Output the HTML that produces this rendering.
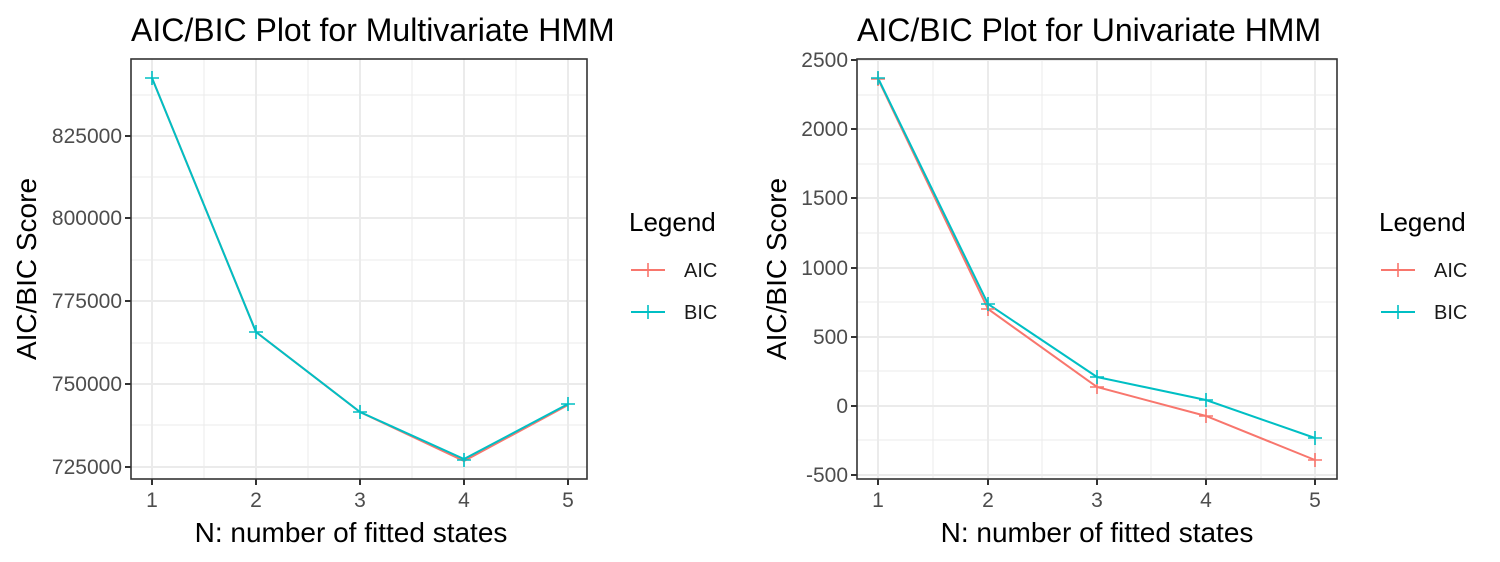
<!DOCTYPE html>
<html><head><meta charset="utf-8"><style>body{margin:0;background:#fff}svg{display:block;font-family:"Liberation Sans",Arial,sans-serif}</style></head><body>
<svg width="1500" height="562" viewBox="0 0 1500 562">
<!-- LEFT PANEL -->
<g>
<g stroke="#ebebeb" stroke-width="1">
<line x1="131" x2="587" y1="95" y2="95"/><line x1="131" x2="587" y1="177" y2="177"/><line x1="131" x2="587" y1="260" y2="260"/><line x1="131" x2="587" y1="343" y2="343"/><line x1="131" x2="587" y1="425" y2="425"/>
<line y1="59" y2="479" x1="204" x2="204"/><line y1="59" y2="479" x1="308" x2="308"/><line y1="59" y2="479" x1="412" x2="412"/><line y1="59" y2="479" x1="516" x2="516"/>
</g>
<g stroke="#ebebeb" stroke-width="2">
<line x1="131" x2="587" y1="136" y2="136"/><line x1="131" x2="587" y1="218" y2="218"/><line x1="131" x2="587" y1="301" y2="301"/><line x1="131" x2="587" y1="384" y2="384"/><line x1="131" x2="587" y1="467" y2="467"/>
<line y1="59" y2="479" x1="152" x2="152"/><line y1="59" y2="479" x1="256" x2="256"/><line y1="59" y2="479" x1="360" x2="360"/><line y1="59" y2="479" x1="464" x2="464"/><line y1="59" y2="479" x1="568" x2="568"/>
</g>
<polyline fill="none" stroke="#F8766D" stroke-width="2" points="152,78 256,332 360,412 464,461 568,405"/>
<polyline fill="none" stroke="#00BFC4" stroke-width="2" points="152,78 256,332 360,412 464,459 568,404"/>
<g stroke="#00BFC4" stroke-width="1.6">
<path d="M145 78h14M152 71v14M249 332h14M256 325v14M353 412h14M360 405v14M457 460h14M464 453v14M561 404h14M568 397v14"/>
</g>
<rect x="131" y="59" width="456" height="420" fill="none" stroke="#333" stroke-width="1.6"/>
<g stroke="#333" stroke-width="2"><path d="M125 136h6M125 218h6M125 301h6M125 384h6M125 467h6M152 479v6M256 479v6M360 479v6M464 479v6M568 479v6"/></g>
<g fill="#4d4d4d" font-size="21" text-anchor="end">
<text x="122" y="143">825000</text><text x="122" y="225">800000</text><text x="122" y="308">775000</text><text x="122" y="391">750000</text><text x="122" y="474">725000</text>
</g>
<g fill="#4d4d4d" font-size="21" text-anchor="middle">
<text x="152" y="507">1</text><text x="256" y="507">2</text><text x="360" y="507">3</text><text x="464" y="507">4</text><text x="568" y="507">5</text>
</g>
<text x="351" y="542" font-size="28" text-anchor="middle">N: number of fitted states</text>
<text transform="translate(36,269) rotate(-90)" font-size="28" text-anchor="middle">AIC/BIC Score</text>
<text x="131" y="41" font-size="32">AIC/BIC Plot for Multivariate HMM</text>
<text x="629" y="231" font-size="26">Legend</text>
<line x1="631" x2="665" y1="270" y2="270" stroke="#F8766D" stroke-width="2"/><path d="M641 270h14M648 263v14" stroke="#F8766D" stroke-width="1.6"/>
<line x1="631" x2="665" y1="312" y2="312" stroke="#00BFC4" stroke-width="2"/><path d="M641 312h14M648 305v14" stroke="#00BFC4" stroke-width="1.6"/>
<text x="684" y="277" font-size="20" fill="#1a1a1a">AIC</text><text x="684" y="319" font-size="20" fill="#1a1a1a">BIC</text>
</g>
<!-- RIGHT PANEL -->
<g>
<g stroke="#ebebeb" stroke-width="1">
<line x1="857" x2="1337" y1="95" y2="95"/><line x1="857" x2="1337" y1="164" y2="164"/><line x1="857" x2="1337" y1="233" y2="233"/><line x1="857" x2="1337" y1="302" y2="302"/><line x1="857" x2="1337" y1="371" y2="371"/><line x1="857" x2="1337" y1="440" y2="440"/>
<line y1="59" y2="479" x1="933" x2="933"/><line y1="59" y2="479" x1="1042" x2="1042"/><line y1="59" y2="479" x1="1151" x2="1151"/><line y1="59" y2="479" x1="1261" x2="1261"/>
</g>
<g stroke="#ebebeb" stroke-width="2">
<line x1="857" x2="1337" y1="60" y2="60"/><line x1="857" x2="1337" y1="129" y2="129"/><line x1="857" x2="1337" y1="198" y2="198"/><line x1="857" x2="1337" y1="268" y2="268"/><line x1="857" x2="1337" y1="337" y2="337"/><line x1="857" x2="1337" y1="406" y2="406"/><line x1="857" x2="1337" y1="475" y2="475"/>
<line y1="59" y2="479" x1="878" x2="878"/><line y1="59" y2="479" x1="988" x2="988"/><line y1="59" y2="479" x1="1097" x2="1097"/><line y1="59" y2="479" x1="1206" x2="1206"/><line y1="59" y2="479" x1="1315" x2="1315"/>
</g>
<polyline fill="none" stroke="#F8766D" stroke-width="2" points="878,79 988,309 1097,387 1206,416 1315,460"/>
<polyline fill="none" stroke="#00BFC4" stroke-width="2" points="878,78 988,304 1097,377 1206,400 1315,438"/>
<g stroke="#F8766D" stroke-width="1.6"><path d="M871 79h14M878 72v14M981 309h14M988 302v14M1090 387h14M1097 380v14M1199 416h14M1206 409v14M1308 460h14M1315 453v14"/></g>
<g stroke="#00BFC4" stroke-width="1.6"><path d="M871 78h14M878 71v14M981 304h14M988 297v14M1090 377h14M1097 370v14M1199 400h14M1206 393v14M1308 438h14M1315 431v14"/></g>
<rect x="857" y="59" width="480" height="420" fill="none" stroke="#333" stroke-width="1.6"/>
<g stroke="#333" stroke-width="2"><path d="M851 60h6M851 129h6M851 198h6M851 268h6M851 337h6M851 406h6M851 475h6M878 479v6M988 479v6M1097 479v6M1206 479v6M1315 479v6"/></g>
<g fill="#4d4d4d" font-size="21" text-anchor="end">
<text x="848" y="67">2500</text><text x="848" y="136">2000</text><text x="848" y="205">1500</text><text x="848" y="275">1000</text><text x="848" y="344">500</text><text x="848" y="413">0</text><text x="848" y="482">-500</text>
</g>
<g fill="#4d4d4d" font-size="21" text-anchor="middle">
<text x="878" y="507">1</text><text x="988" y="507">2</text><text x="1097" y="507">3</text><text x="1206" y="507">4</text><text x="1315" y="507">5</text>
</g>
<text x="1097" y="542" font-size="28" text-anchor="middle">N: number of fitted states</text>
<text transform="translate(786,269) rotate(-90)" font-size="28" text-anchor="middle">AIC/BIC Score</text>
<text x="857" y="41" font-size="32">AIC/BIC Plot for Univariate HMM</text>
<text x="1379" y="231" font-size="26">Legend</text>
<line x1="1381" x2="1415" y1="270" y2="270" stroke="#F8766D" stroke-width="2"/><path d="M1391 270h14M1398 263v14" stroke="#F8766D" stroke-width="1.6"/>
<line x1="1381" x2="1415" y1="312" y2="312" stroke="#00BFC4" stroke-width="2"/><path d="M1391 312h14M1398 305v14" stroke="#00BFC4" stroke-width="1.6"/>
<text x="1434" y="277" font-size="20" fill="#1a1a1a">AIC</text><text x="1434" y="319" font-size="20" fill="#1a1a1a">BIC</text>
</g>
</svg>
</body></html>
